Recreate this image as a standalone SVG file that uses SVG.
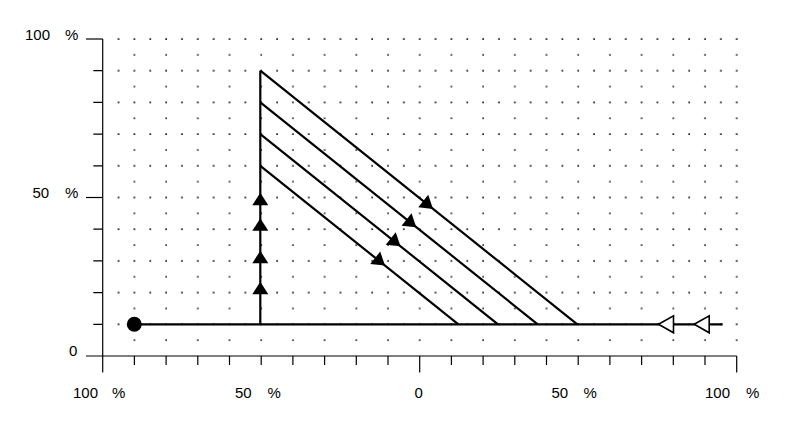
<svg xmlns="http://www.w3.org/2000/svg" xmlns:xlink="http://www.w3.org/1999/xlink" width="791" height="425" viewBox="0 0 791 425">
<style>
.ax{stroke:#000;stroke-width:1.2;fill:none}
.ln{stroke:#000;stroke-width:2.2;fill:none;stroke-linecap:butt}
.lbl{font-family:"Liberation Sans",Arial,sans-serif;font-size:15px;fill:#000}
.fa{fill:#000}
.oa{fill:#fff;stroke:#000;stroke-width:1.6;stroke-linejoin:miter}
</style>
<defs>
<pattern id="dots" patternUnits="userSpaceOnUse" x="94.7" y="31" width="31.7" height="31.7">
<rect x="7.2" y="7.3" width="1.7" height="1.5" fill="#000"/>
<rect x="23.05" y="7.3" width="1.7" height="1.5" fill="#000"/>
<rect x="7.3" y="23.15" width="1.5" height="1.5" fill="#000"/>
</pattern>
<path id="fArrow" d="M0,0 L-8,12.5 L8,12.5 Z"/>
<path id="oArrow" d="M0,0 L15,-8.5 L15,8.5 Z"/>
</defs>
<rect width="791" height="425" fill="#fff"/>
<g id="grid">
<rect x="110" y="35" width="632" height="310" fill="url(#dots)"/>
</g>
<g id="axes">
<line class="ax" x1="102.7" y1="39" x2="102.7" y2="372.5"/>
<line class="ax" x1="86" y1="356" x2="736.7" y2="356"/>
<line class="ax" x1="86" y1="39" x2="102.7" y2="39"/>
<line class="ax" x1="86" y1="197.5" x2="102.7" y2="197.5"/>
<path class="ax" d="M93.3,70.7H102.7M93.3,102.4H102.7M93.3,134.1H102.7M93.3,165.8H102.7M93.3,229.2H102.7M93.3,260.9H102.7M93.3,292.6H102.7M93.3,324.3H102.7"/>
<path class="ax" d="M419.7,356V372.5M736.7,356V372.5"/>
<path class="ax" d="M134.4,356V365M166.1,356V365M197.8,356V365M229.5,356V365M261.2,356V365M292.9,356V365M324.6,356V365M356.3,356V365M388,356V365M451.4,356V365M483.1,356V365M514.8,356V365M546.5,356V365M578.2,356V365M609.9,356V365M641.6,356V365M673.3,356V365M705,356V365"/>
</g>
<g id="labels">
<text class="lbl" x="25" y="39.5">100 <tspan x="65">%</tspan></text>
<text class="lbl" x="32.5" y="197.5">50 <tspan x="65">%</tspan></text>
<text class="lbl" x="69" y="356">0</text>
<text class="lbl" x="73" y="397.5">100 <tspan x="112">%</tspan></text>
<text class="lbl" x="235" y="397.5">50 <tspan x="267.5">%</tspan></text>
<text class="lbl" x="414.5" y="397.5">0</text>
<text class="lbl" x="551.5" y="397.5">50 <tspan x="583.5">%</tspan></text>
<text class="lbl" x="705" y="397.5">100 <tspan x="746">%</tspan></text>
</g>
<g id="connectors">
<line class="ln" x1="134.3" y1="324.3" x2="722.7" y2="324.3"/>
<line class="ln" x1="260.3" y1="324.3" x2="260.3" y2="70.7"/>
<line class="ln" x1="260.3" y1="70.7" x2="577.3" y2="324.3"/>
<line class="ln" x1="260.3" y1="102.4" x2="537.7" y2="324.3"/>
<line class="ln" x1="260.3" y1="134.1" x2="498" y2="324.3"/>
<line class="ln" x1="260.3" y1="165.8" x2="458.4" y2="324.3"/>
</g>
<g id="start-point">
<circle cx="134.3" cy="324.3" r="7.5" fill="#000"/>
</g>
<g id="arrows-vertical">
<use class="fa" xlink:href="#fArrow" transform="translate(260.3,192.7)"/>
<use class="fa" xlink:href="#fArrow" transform="translate(260.3,218.3)"/>
<use class="fa" xlink:href="#fArrow" transform="translate(260.3,250.7)"/>
<use class="fa" xlink:href="#fArrow" transform="translate(260.3,281.7)"/>
</g>
<g id="arrows-diagonal">
<use class="fa" xlink:href="#fArrow" transform="translate(433,208.9) rotate(128.66)"/>
<use class="fa" xlink:href="#fArrow" transform="translate(416.3,227.2) rotate(128.66)"/>
<use class="fa" xlink:href="#fArrow" transform="translate(400.5,246.3) rotate(128.66)"/>
<use class="fa" xlink:href="#fArrow" transform="translate(385,265.6) rotate(128.66)"/>
</g>
<g id="arrows-horizontal">
<use class="oa" xlink:href="#oArrow" transform="translate(658.5,324.3)"/>
<use class="oa" xlink:href="#oArrow" transform="translate(694.2,324.3)"/>
</g>
</svg>
